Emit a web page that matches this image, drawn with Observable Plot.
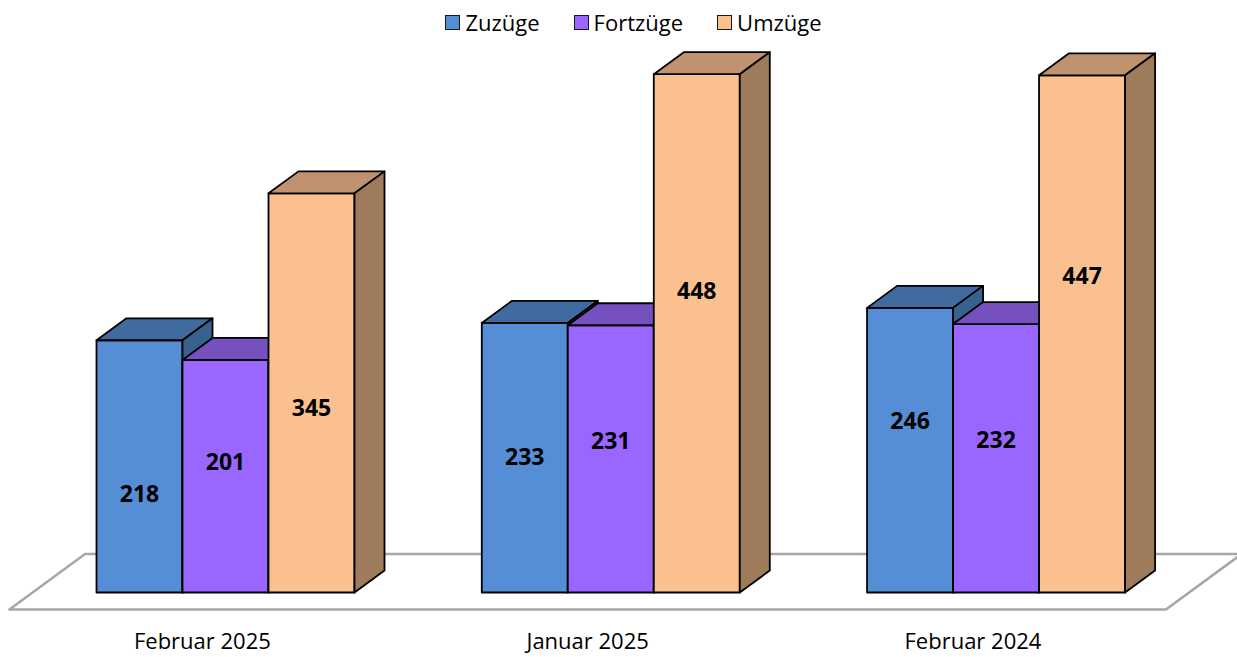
<!DOCTYPE html>
<html>
<head>
<meta charset="utf-8">
<script src="https://cdn.jsdelivr.net/npm/d3@7"></script>
<script src="https://cdn.jsdelivr.net/npm/@observablehq/plot@0.6"></script>
<style>
  html, body { margin: 0; padding: 0; background: #fff; }
  body { width: 1237px; height: 657px; overflow: hidden; font-family: "Open Sans", sans-serif; }
  #legend { height: 44px; display: flex; justify-content: center; align-items: center; padding-left: 30px; box-sizing: border-box; gap: 34px; font-size: 22px; color: #000; }
  #legend .item { display: flex; align-items: center; gap: 5px; }
  #legend .sw { width: 13px; height: 13px; border: 1.6px solid #1a1a1a; }
  svg { display: block; }
</style>
</head>
<body>
<div id="legend"></div>
<div id="chart"></div>
<script>
// ---- data ----
const groups = ["Februar 2025", "Januar 2025", "Februar 2024"];
const series = ["Zuzüge", "Fortzüge", "Umzüge"];
const zuzuege  = [218, 233, 246];
const fortzuege = [201, 231, 232];
const umzuege  = [345, 448, 447];
// where each value label sits inside its bar (share of bar height), per group
const labelFrac = [[0.39, 0.56, 0.46], [0.50, 0.565, 0.58], [0.60, 0.565, 0.61]];

// ---- styles ----
const colors = [
  {front: "#558ED5", top: "#3F6B9F", side: "#37628F"},
  {front: "#9966FF", top: "#7750BF", side: "#6A45AD"},
  {front: "#FAC090", top: "#C09270", side: "#9E7B5B"}
];

const values = [zuzuege, fortzuege, umzuege];
const groupStep = 4.48;          // slots between group starts
const DX = 0.349, DY = 19;       // 3D depth offset (slot units, value units)
const floorFront = -0.77, floorBack = 1.75, floorPad = 0.744;

const proj = (x, v, d) => ({x: x + d * DX, y: v + d * DY});

const polys = [];
const labels = [];
groups.forEach((g, gi) => {
  series.forEach((s, si) => {
    const v = values[si][gi];
    const x0 = gi * groupStep + si, x1 = x0 + 1;
    const id = `${gi}-${si}`;
    const faces = [
      ["front", [proj(x0, 0, 0), proj(x1, 0, 0), proj(x1, v, 0), proj(x0, v, 0)]],
      ["top",   [proj(x0, v, 0), proj(x1, v, 0), proj(x1, v, 1), proj(x0, v, 1)]],
      ["side",  [proj(x1, 0, 0), proj(x1, 0, 1), proj(x1, v, 1), proj(x1, v, 0)]]
    ];
    faces.forEach(([f, pts]) => pts.forEach(p => polys.push({id: id + f, fill: colors[si][f], ...p})));
    labels.push({x: x0 + 0.5, y: v * labelFrac[gi][si], text: String(v)});
  });
});

const xL = -floorPad, xR = (groups.length - 1) * groupStep + series.length + floorPad;
const floor = [proj(xL, 0, floorFront), proj(xR, 0, floorFront), proj(xR, 0, floorBack), proj(xL, 0, floorBack)];

const tickPos = groups.map((g, gi) => gi * groupStep + series.length / 2 + floorFront * DX);

const chart = Plot.plot({
  width: 1237,
  height: 613,
  marginTop: 0, marginBottom: 65, marginLeft: 0, marginRight: 0,
  x: {domain: [0, 10], range: [96, 956], axis: null},
  y: {domain: [0, 400], range: [548, 548 - 400 * 1.157], axis: null},
  style: {fontFamily: "Open Sans, sans-serif", background: "#fff"},
  marks: [
    Plot.line(floor, {x: "x", y: "y", curve: "linear-closed", fill: "#fff", stroke: "#A6A6A6", strokeWidth: 2.5}),
    Plot.line(polys, {x: "x", y: "y", z: "id", fill: "fill", stroke: "#000", strokeWidth: 1.8, strokeLinejoin: "round", curve: "linear-closed"}),
    Plot.text(labels, {x: "x", y: "y", text: "text", fontSize: 23, fontWeight: "bold", fill: "#000"}),
    Plot.axisX(tickPos, {tickSize: 0, tickPadding: 41, tickFormat: (d, i) => groups[i], fontSize: 22, fill: "#000", stroke: null, label: null}),
  ],
  color: {type: "identity"}
});
document.getElementById("chart").appendChild(chart);

// legend
const legend = document.getElementById("legend");
series.forEach((s, si) => {
  const item = document.createElement("div");
  item.className = "item";
  const sw = document.createElement("div");
  sw.className = "sw";
  sw.style.background = colors[si].front;
  const t = document.createElement("span");
  t.textContent = s;
  item.appendChild(sw); item.appendChild(t);
  legend.appendChild(item);
});
</script>
</body>
</html>
